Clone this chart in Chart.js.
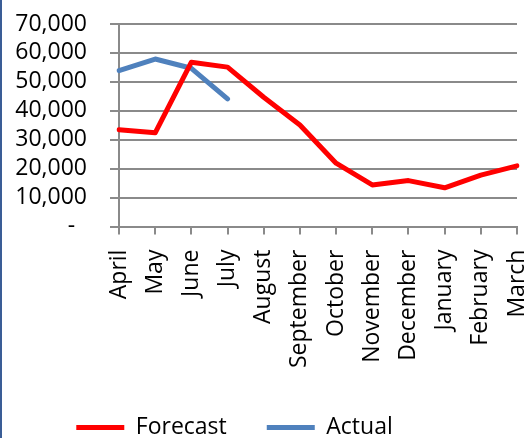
<!DOCTYPE html>
<html>
<head>
<meta charset="utf-8">
<script src="https://cdn.jsdelivr.net/npm/chart.js@4"></script>
<style>
  html, body { margin: 0; padding: 0; background: #fff; }
  #wrap { position: relative; width: 525px; height: 438px; }
  #edge { position: absolute; left: 0; top: 0; width: 2px; height: 438px; background: #3a5d96; }
</style>
</head>
<body>
<div id="wrap">
  <canvas id="grafico" width="525" height="438"></canvas>
  <div id="edge"></div>
</div>
<script>
const meses = ['April', 'May', 'June', 'July', 'August', 'September', 'October',
    'November', 'December', 'January', 'February', 'March']
const forecast = [33500, 32400, 56800, 55100, 44700, 35100, 21900, 14400, 15900, 13400, 17800, 21000]
const actual = [53900, 57900, 54700, 44100]
const yMax = 70000
const yStep = 10000

const fonte = "'Open Sans', sans-serif"
const cinza = '#8a8a8a'

// layout numbers (pixels)
const padEsq = -48
const padBaixo = -11
const eixoY = 119
const baseY = 226.6
const topoLegenda = 376

const ctx = document.getElementById('grafico').getContext('2d')

const grafico = new Chart(ctx, {
    type: 'line',
    data: {
        labels: meses,
        datasets: [{
            label: 'Forecast',
            data: forecast,
            borderColor: '#ff0000',
            backgroundColor: '#ff0000',
            borderWidth: 5,
            borderCapStyle: 'round',
            borderJoinStyle: 'round',
            pointRadius: 0,
            tension: 0
        }, {
            label: 'Actual',
            data: actual,
            borderColor: '#4f81bd',
            backgroundColor: '#4f81bd',
            borderWidth: 5,
            borderCapStyle: 'round',
            borderJoinStyle: 'round',
            pointRadius: 0,
            tension: 0
        }]
    },
    options: {
        responsive: false,
        animation: false,
        devicePixelRatio: 1,
        layout: {
            padding: { left: padEsq, right: 8, top: 24, bottom: padBaixo }
        },
        plugins: {
            tooltip: { enabled: false },
            legend: {
                position: 'bottom',
                labels: {
                    usePointStyle: true,
                    pointStyle: 'line',
                    pointStyleWidth: 48,
                    padding: 40,
                    color: '#000',
                    font: { family: fonte, size: 23 }
                }
            }
        },
        scales: {
            x: {
                offset: false,
                grid: {
                    drawOnChartArea: false,
                    drawTicks: true,
                    tickLength: 8,
                    color: cinza,
                    lineWidth: 2
                },
                border: { color: cinza, width: 2 },
                ticks: {
                    autoSkip: false,
                    minRotation: 90,
                    maxRotation: 90,
                    padding: 15,
                    color: '#000',
                    font: { family: fonte, size: 23 }
                },
                afterFit: function (scale) {
                    scale.height = topoLegenda - baseY
                    scale.paddingLeft = 0
                    scale.paddingRight = 0
                }
            },
            y: {
                min: 0,
                max: yMax,
                grid: {
                    color: cinza,
                    lineWidth: 2,
                    tickLength: 9
                },
                border: { color: cinza, width: 2 },
                ticks: {
                    autoSkip: false,
                    stepSize: yStep,
                    padding: 23,
                    color: '#000',
                    font: { family: fonte, size: 23 },
                    callback: function (valor) {
                        if (valor === 0) return '-  '
                        return valor.toLocaleString('en-US')
                    }
                },
                afterFit: function (scale) {
                    scale.width = eixoY - padEsq
                    scale.paddingTop = 0
                    scale.paddingBottom = 0
                }
            }
        }
    }
})
</script>
</body>
</html>
